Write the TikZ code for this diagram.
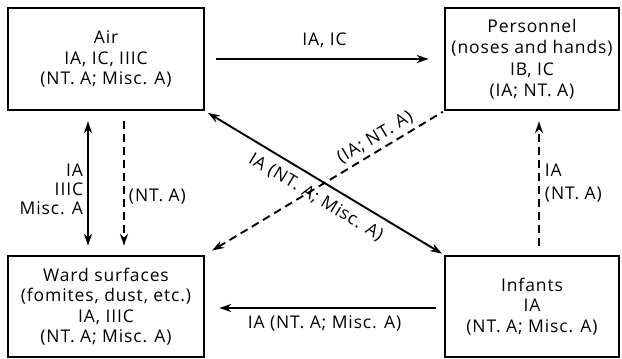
\documentclass[tikz,border=0pt]{standalone}
\usepackage{fontspec}
\setmainfont{Open Sans}[LetterSpace=5]
\usetikzlibrary{arrows.meta}
\begin{document}
\begin{tikzpicture}[x=1pt,y=1pt,
  box/.style={draw,line width=2.6pt,align=center,inner sep=0pt,font=\fontsize{17.5}{20.5}\selectfont},
  lbl/.style={font=\fontsize{17.5}{19}\selectfont,inner sep=1pt},
  conn/.style={line width=1.9pt,-{Stealth[length=12pt,width=8pt]}},
  rconn/.style={line width=1.9pt,{Stealth[length=12pt,width=8pt]}-},
  both/.style={line width=1.9pt,{Stealth[length=12pt,width=8pt]}-{Stealth[length=12pt,width=8pt]}},
  dsh/.style={dash pattern=on 8pt off 5pt}]
\useasboundingbox (0,0) rectangle (622,359);
\node[box,minimum width=196pt,minimum height=102pt] (air) at (106,300) {Air\\IA, IC, IIIC\\(NT. A; Misc. A)};
\node[box,minimum width=174pt,minimum height=102pt,font=\fontsize{17.5}{21.5}\selectfont] (pers) at (532,300) {Personnel\\(noses and hands)\\IB, IC\\(IA; NT. A)};
\node[box,minimum width=196pt,minimum height=101pt] (ward) at (106,52.5) {Ward surfaces\\(fomites, dust, etc.)\\IA, IIIC\\(NT. A; Misc. A)};
\node[box,minimum width=174pt,minimum height=101pt] (inf) at (532,52.5) {Infants\\IA\\(NT. A; Misc. A)};
% Air -> Personnel
\draw[conn,shorten <=11pt,shorten >=15pt] (air.east) -- node[lbl,above=9pt] (l1) {IA, IC} (pers.west);
% Air <-> Ward
\draw[both,shorten <=10pt,shorten >=9pt] ([xshift=-18pt]air.south) -- node[lbl,left=3pt,align=right,yshift=-6pt] (l2) {IA\\IIIC\\Misc. A} ([xshift=-18pt]ward.north);
\draw[conn,dsh,shorten <=10pt,shorten >=9pt] ([xshift=18pt]air.south) -- node[lbl,right=3pt,yshift=-14pt] (l3) {(NT. A)} ([xshift=18pt]ward.north);
% Air <-> Infants diagonal
\draw[both,shorten <=3pt,shorten >=2pt] (air.south east) -- node[lbl,sloped,below=7pt] (l4) {IA (NT. A; Misc. A)} (inf.north west);
% Personnel -> Ward dashed
\draw[rconn,dsh,shorten <=8pt,shorten >=1pt] (ward.north east) -- node[lbl,sloped,above=3pt,pos=0.74] (l5) {(IA; NT. A)} (pers.south west);
% Infants -> Personnel dashed
\draw[conn,dsh,shorten <=9pt,shorten >=10pt] ([xshift=7pt]inf.north) -- node[lbl,right=4pt,align=left,font=\fontsize{17.5}{22.5}\selectfont] (l6) {IA\\(NT. A)} ([xshift=7pt]pers.south);
% Infants -> Ward
\draw[conn,shorten <=8pt,shorten >=14pt] ([yshift=-1.5pt]inf.west) -- node[lbl,below=6pt] (l7) {IA (NT. A; Misc. A)} ([yshift=-1.5pt]ward.east);
\end{tikzpicture}
\end{document}
